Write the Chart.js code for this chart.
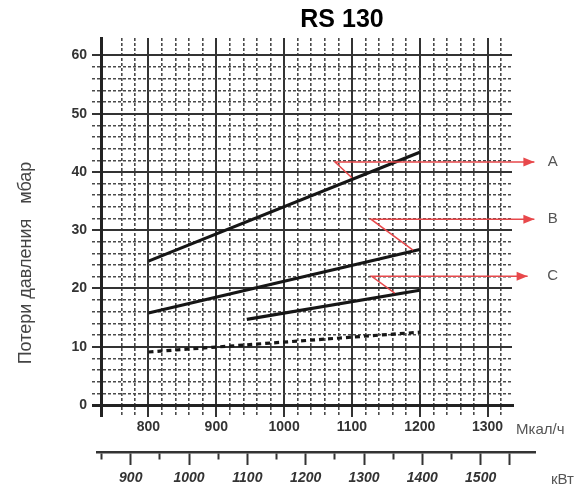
<!DOCTYPE html>
<html>
<head>
<meta charset="utf-8">
<script src="https://cdn.jsdelivr.net/npm/chart.js@4/dist/chart.umd.min.js"></script>
<style>
  html, body { margin: 0; padding: 0; background: #fff; }
  #wrap { width: 581px; height: 490px; }
</style>
</head>
<body>
<div id="wrap"><canvas id="chart"></canvas></div>
<script>
'use strict';

/* ---- texts ---- */
const TITLE = 'RS 130';
const Y_TITLE = 'Потери давления   мбар';
const MCAL_UNIT = 'Мкал/ч';
const KW_UNIT = 'кВт';

/* ---- axes ---- */
const X_MIN = 730, X_MAX = 1336;          // Мкал/ч
const Y_MIN = 0, Y_MAX = 63;              // мбар
const KW_PER_MCAL = 1.163;
const MCAL_LABELS = [800, 900, 1000, 1100, 1200, 1300];
const KW_LABELS = [900, 1000, 1100, 1200, 1300, 1400, 1500];
const Y_LABELS = [0, 10, 20, 30, 40, 50, 60];

// grid: every 20 Mcal/h, every 2 mbar, kW ticks every 50
const X_GRID = [X_MIN];
for (let v = 760; v <= 1320; v += 20) X_GRID.push(v);
const Y_GRID = [];
for (let v = 0; v <= 60; v += 2) Y_GRID.push(v);
const KW_GRID = [];
for (let v = 850; v <= 1550; v += 50) KW_GRID.push(v);

/* ---- curves ---- */
const CURVE_A_X = [800, 1200];
const CURVE_A_Y = [24.7, 43.4];
const CURVE_B_X = [800, 1200];
const CURVE_B_Y = [15.8, 26.7];
const CURVE_C_X = [945, 1200];
const CURVE_C_Y = [14.7, 19.7];
const CURVE_D_X = [800, 1200];    // dashed
const CURVE_D_Y = [9.1, 12.5];

/* ---- red callouts: point on curve -> corner -> arrow tip ---- */
const CALLOUT_LABELS = ['A', 'B', 'C'];
const CALLOUT_X = [[1100, 1075, 1369], [1190, 1128, 1369], [1163, 1129, 1359]];
const CALLOUT_Y = [[39.0, 41.7, 41.7], [26.6, 31.9, 31.9], [19.2, 22.1, 22.1]];
const CALLOUT_LABEL_X = 1396;

const FONT = '"Liberation Sans", Arial, sans-serif';
const RED = '#e8484b';

const pts = (xs, ys) => xs.map((x, i) => ({ x, y: ys[i] }));

// solid every 100 (x) / 10 (y), dashed in between, heavy for the axis
function gridStyle(value, step, axisValue) {
    if (value === axisValue) return { color: '#222', width: 3, dash: [] };
    if (value % step === 0) return { color: '#333', width: 2, dash: [] };
    return { color: '#4a4a4a', width: 1.6, dash: [3, 2] };
}
const gx = c => gridStyle(c.tick ? c.tick.value : X_MIN, 100, X_MIN);
const gy = c => gridStyle(c.tick ? c.tick.value : Y_MIN, 10, Y_MIN);

function curve(label, xs, ys, dash) {
    return {
        label,
        data: pts(xs, ys),
        borderColor: '#161616',
        borderWidth: 3.2,
        borderDash: dash || [],
        pointRadius: 0,
        tension: 0,
    };
}

function callout(i) {
    return {
        label: CALLOUT_LABELS[i],
        data: pts(CALLOUT_X[i], CALLOUT_Y[i]),
        borderColor: RED,
        borderWidth: 1.5,
        pointRadius: 0,
        clip: false,
        tension: 0,
    };
}

const textPlugin = {
    id: 'texts',
    afterLayout(chart) {
        // kW scale line runs a bit wider than the grid; keep it tied to Mcal/h
        const x = chart.scales.x, k = chart.scales.x2;
        k.left = x.left - 4;
        k.right = x.right + 23;
        k.width = k.right - k.left;
        k.min = x.getValueForPixel(k.left) * KW_PER_MCAL;
        k.max = x.getValueForPixel(k.right) * KW_PER_MCAL;
        k.configure();
    },
    afterDatasetsDraw(chart) {
        // arrow heads at the end of each red callout
        const { ctx } = chart;
        ctx.save();
        ctx.fillStyle = RED;
        CALLOUT_LABELS.forEach((_, i) => {
            const p = chart.getDatasetMeta(i).data;
            const tip = p[p.length - 1];
            ctx.beginPath();
            ctx.moveTo(tip.x, tip.y);
            ctx.lineTo(tip.x - 11, tip.y - 4.5);
            ctx.lineTo(tip.x - 11, tip.y + 4.5);
            ctx.closePath();
            ctx.fill();
        });
        ctx.restore();
    },
    afterDraw(chart) {
        const { ctx, scales: { x, y } } = chart;
        ctx.save();
        ctx.textBaseline = 'middle';

        ctx.fillStyle = '#000';
        ctx.font = 'bold 25px ' + FONT;
        ctx.textAlign = 'center';
        ctx.fillText(TITLE, 342, 20);

        ctx.fillStyle = '#555';
        ctx.font = '15px ' + FONT;
        ctx.textAlign = 'left';
        ctx.fillText(MCAL_UNIT, 516, 430);
        ctx.fillText(KW_UNIT, 551, 480);

        ctx.textAlign = 'center';
        CALLOUT_LABELS.forEach((t, i) => {
            ctx.fillText(t, x.getPixelForValue(CALLOUT_LABEL_X), y.getPixelForValue(CALLOUT_Y[i][2]));
        });

        ctx.save();
        ctx.translate(26, 263);
        ctx.rotate(-Math.PI / 2);
        ctx.fillStyle = '#444';
        ctx.font = '18px ' + FONT;
        ctx.fillText(Y_TITLE, 0, 0);
        ctx.restore();

        ctx.restore();
    },
};

new Chart(document.getElementById('chart'), {
    type: 'line',
    data: {
        datasets: [
            callout(0), callout(1), callout(2),
            curve('A', CURVE_A_X, CURVE_A_Y),
            curve('B', CURVE_B_X, CURVE_B_Y),
            curve('C', CURVE_C_X, CURVE_C_Y),
            curve('D', CURVE_D_X, CURVE_D_Y, [5, 4]),
        ],
    },
    options: {
        responsive: true,
        maintainAspectRatio: false,
        animation: false,
        layout: { padding: { top: 38, right: 69, bottom: 0, left: 0 } },
        plugins: {
            legend: { display: false },
            tooltip: { enabled: false },
            title: { display: false },
        },
        scales: {
            x: {
                type: 'linear',
                position: 'bottom',
                weight: 0,
                min: X_MIN,
                max: X_MAX,
                afterBuildTicks: s => { s.ticks = X_GRID.map(v => ({ value: v })); },
                afterFit: s => { s.height = 47; },
                ticks: {
                    autoSkip: false,
                    maxRotation: 0,
                    padding: 2,
                    color: '#333',
                    font: { family: FONT, size: 14, weight: 'bold' },
                    callback: v => (MCAL_LABELS.includes(v) ? String(v) : ''),
                },
                grid: {
                    color: c => gx(c).color,
                    lineWidth: c => gx(c).width,
                    tickLength: 12,
                    tickColor: c => gx(c).color,
                    tickWidth: c => gx(c).width,
                    tickBorderDash: c => gx(c).dash,
                },
                border: { color: '#222', width: 3, dash: c => gx(c).dash },
            },
            x2: {
                type: 'linear',
                axis: 'x',
                position: 'bottom',
                weight: 1,
                min: X_MIN * KW_PER_MCAL,
                max: X_MAX * KW_PER_MCAL,
                afterBuildTicks: s => { s.ticks = KW_GRID.map(v => ({ value: v })); },
                afterFit: s => { s.height = 38; },
                ticks: {
                    autoSkip: false,
                    maxRotation: 0,
                    padding: 5,
                    color: '#333',
                    font: { family: FONT, size: 14, weight: 'bold', style: 'italic' },
                    callback: v => (KW_LABELS.includes(v) ? String(v) : ''),
                },
                grid: {
                    drawOnChartArea: false,
                    drawTicks: true,
                    tickLength: 13,
                    tickColor: '#333',
                    tickWidth: 2,
                    tickBorderDash: c => (c.tick && c.tick.value % 100 !== 0 && c.tick.value !== 1550 ? [6, 20] : []),
                },
                border: { color: '#333', width: 2.5 },
            },
            y: {
                type: 'linear',
                min: Y_MIN,
                max: Y_MAX,
                afterBuildTicks: s => { s.ticks = Y_GRID.map(v => ({ value: v })); },
                afterFit: s => { s.width = 101; },
                ticks: {
                    autoSkip: false,
                    padding: 5,
                    color: '#333',
                    font: { family: FONT, size: 14, weight: 'bold' },
                    callback: v => (Y_LABELS.includes(v) ? String(v) : ''),
                },
                grid: {
                    color: c => gy(c).color,
                    lineWidth: c => gy(c).width,
                    tickLength: 9,
                    tickColor: c => gy(c).color,
                    tickWidth: c => gy(c).width,
                    tickBorderDash: c => gy(c).dash,
                },
                border: { color: '#222', width: 3, dash: c => gy(c).dash },
            },
        },
    },
    plugins: [textPlugin],
});
</script>
</body>
</html>
